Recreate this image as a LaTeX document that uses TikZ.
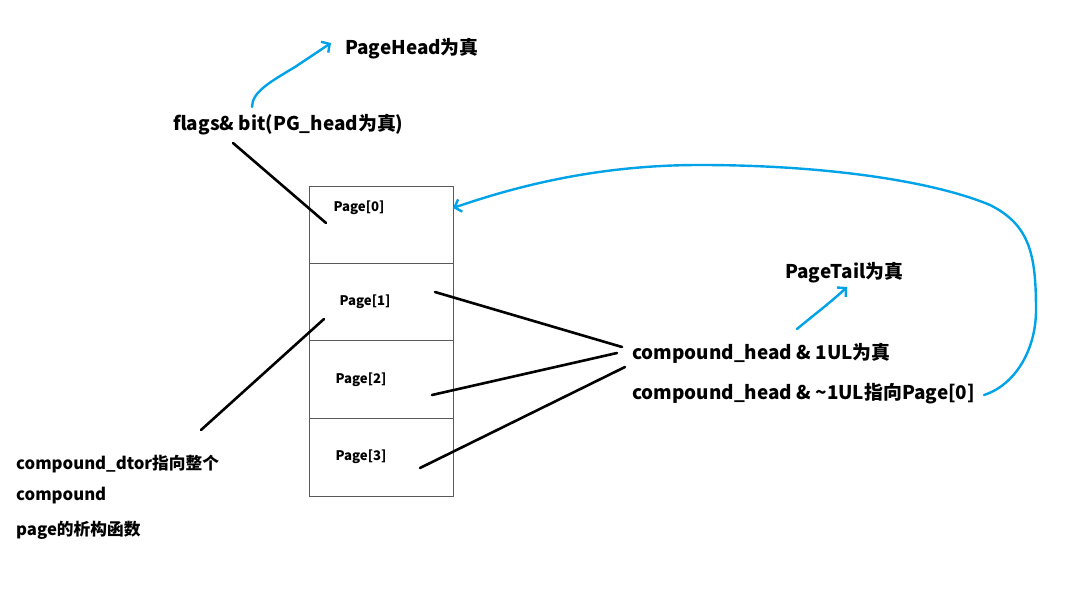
\documentclass[tikz,border=0pt]{standalone}
\usepackage{fontspec}
\setmainfont{Noto Sans CJK SC}
\usetikzlibrary{positioning,arrows.meta}
\definecolor{paintblue}{RGB}{0,162,232}
\definecolor{boxgray}{RGB}{90,90,90}

\begin{document}
\begin{tikzpicture}[x=1pt,y=-1pt,
	pagebox/.style={draw=boxgray,line width=1pt,minimum width=144pt,minimum height=77pt,inner sep=0pt,outer sep=0pt},
	pagelab/.style={font=\bfseries\fontsize{13.2}{15}\selectfont},
	txt/.style={anchor=west,inner sep=0pt,font=\bfseries\fontsize{18.9}{22}\selectfont},
	small/.style={anchor=west,inner sep=0pt,font=\bfseries\fontsize{16.7}{19}\selectfont},
	blackline/.style={line width=2.6pt,line cap=round},
	bluearrow/.style={paintblue,line width=2.4pt,line cap=round,-{Straight Barb[length=6pt,width=13pt]}}]

		\useasboundingbox (0,0) rectangle (1080,596);

		% page boxes
		\node[pagebox] (page0) at (381,225.5) {};
		\node[pagebox,below=0pt of page0] (page1) {};
		\node[pagebox,below=0pt of page1] (page2) {};
		\node[pagebox,below=0pt of page2,minimum height=78pt] (page3) {};

		\node[pagelab] (lab0) at (359,208) {Page[0]};
		\node[pagelab] (lab1) at (365,302) {Page[1]};
		\node[pagelab] (lab2) at (361,380) {Page[2]};
		\node[pagelab] (lab3) at (361,457) {Page[3]};

		% labels
		\node[txt] (head) at (345,49) {PageHead为真};
		\node[txt] (flags) at (173,125) {flags\& bit(PG\_head为真)};
		\node[txt] (tail) at (785,273) {PageTail为真};
		\node[txt] (ch1) at (632,353) {compound\_head \& 1UL为真};
		\node[txt] (ch2) at (632,394) {compound\_head \& \textasciitilde 1UL指向Page[0]};
		\node[small] (dtor1) at (16,464) {compound\_dtor指向整个};
		\node[small] (dtor2) at (16,496) {compound};
		\node[small] (dtor3) at (16,530) {page的析构函数};

		% free ends
		\coordinate (f0) at (233,143);
		\coordinate (p0) at (326,223);
		\coordinate (d0) at (201,430);
		\coordinate (p1d) at (324,319);
		\coordinate (p1) at (435,292);
		\coordinate (p2) at (432,395);
		\coordinate (p3) at (420,468);
		\coordinate (c1) at (622,347);
		\coordinate (c2) at (617,353);
		\coordinate (c3) at (625,367);
		\coordinate (hs) at (252,107);
		\coordinate (he) at (331,43);
		\coordinate (ts) at (797,329);
		\coordinate (te) at (847,287);
		\coordinate (ls) at (984,395);

		\draw[blackline] (f0) -- (p0);
		\draw[blackline] (d0) -- (p1d);
		\draw[blackline] (p1) -- (c1);
		\draw[blackline] (p2) -- (c2);
		\draw[blackline] (p3) -- (c3);

		\draw[bluearrow] (hs) .. controls (252,92) and (270,82) .. (295,67) -- (he);
		\draw[bluearrow] (ts) .. controls (810,318) and (830,303) .. (te);
		\draw[bluearrow] (ls) .. controls (1015,385) and (1036,350) .. (1036,310)
			.. controls (1036,255) and (1030,225) .. (990,205)
			.. controls (930,180) and (820,165) .. (700,165)
			.. controls (600,165) and (520,185) .. (page0.east |- lab0);

	\end{tikzpicture}
\end{document}
